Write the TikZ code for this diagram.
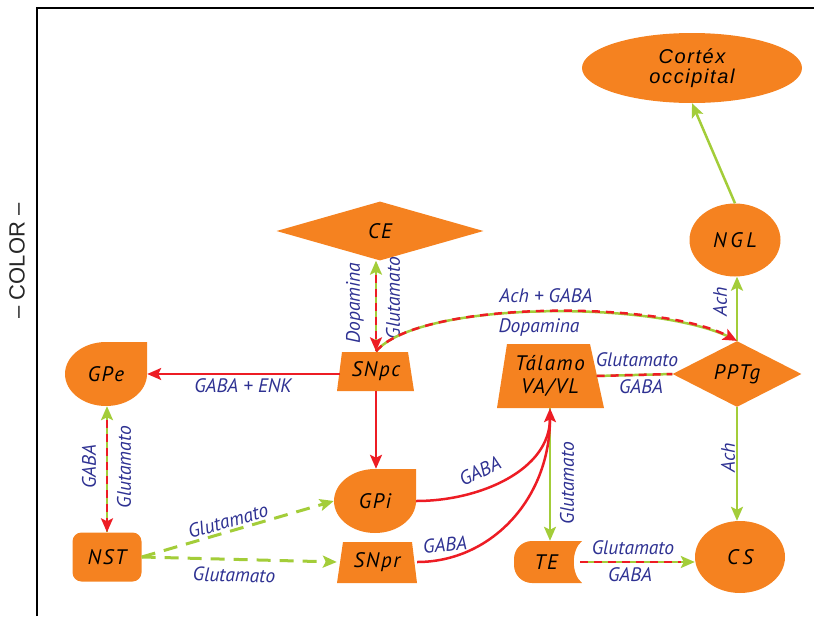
\documentclass[tikz,border=0pt]{standalone}
\usepackage{fontspec}
\setmainfont{PT Sans}
\newfontfamily\nodefont[LetterSpace=8]{PT Sans}
\newfontfamily\widefont[LetterSpace=18]{PT Sans}
\newfontfamily\cortexfont[LetterSpace=8]{Liberation Sans}
\newfontfamily\colorfont{Liberation Sans}
\usetikzlibrary{arrows.meta,shapes.geometric}
\definecolor{nodeor}{HTML}{F58220}
\definecolor{lred}{HTML}{ED1C24}
\definecolor{lgreen}{HTML}{A3CD39}
\definecolor{lblue}{HTML}{2E3192}
\begin{document}
\begin{tikzpicture}[x=1pt,y=-1pt,
  nodetext/.style={font=\nodefont\fontsize{21}{23}\selectfont\itshape, text=black, inner sep=0pt},
  widetext/.style={font=\widefont\fontsize{21}{23}\selectfont\itshape, text=black, inner sep=0pt},
  lab/.style={font=\fontsize{19.5}{21}\selectfont\itshape, text=lblue, inner sep=0pt},
  tip/.style={-{Stealth[length=14pt,width=12pt,inset=3pt]}},
  gline/.style={draw=lgreen, line width=2.5pt},
  rline/.style={draw=lred, line width=2.5pt},
  rdash/.style={draw=lred, line width=2.5pt, dash pattern=on 8pt off 6pt},
  gdash/.style={draw=lgreen, line width=3pt, dash pattern=on 14pt off 9pt},
  gshape/.pic={\fill[nodeor] (41,-32) -- (41,0) .. controls (41,17.7) and (22.6,32) .. (0,32) .. controls (-22.6,32) and (-41,17.7) .. (-41,0) .. controls (-41,-17.7) and (-22.6,-32) .. (0,-32) -- cycle;}
]
\useasboundingbox (0,0) rectangle (814,616);
% frame
\draw[line width=2pt] (37,616) -- (37,8) -- (814,8);
\node[rotate=90, font=\colorfont\fontsize{22}{24}\selectfont, text=black!85, inner sep=0pt] (colorlab) at (17,261) {– COLOR –};

% shapes
\pic at (106,374) {gshape};
\pic at (375,501) {gshape};
\fill[nodeor] (342,352) -- (408,352) -- (414,391) -- (337,391) -- cycle;
\fill[nodeor] (507,344) -- (590,344) -- (604,408) -- (497,408) -- cycle;
\fill[nodeor] (343,542) -- (412,542) -- (417,583) -- (337,583) -- cycle;
\fill[nodeor] (582,541) -- (532,541) .. controls (522,541) and (514,549) .. (514,559) -- (514,565) .. controls (514,575) and (522,583) .. (532,583) -- (582,583) .. controls (571,574) and (571,550) .. (582,541) -- cycle;

% nodes
\node[ellipse, fill=nodeor, minimum width=220, minimum height=70, inner sep=0pt, font=\cortexfont\fontsize{20}{20}\selectfont\itshape, align=center] (cortex) at (692,68) {Cortéx\\occipital};
\node[ellipse, fill=nodeor, minimum width=91, minimum height=73, widetext] (ngl) at (735,240) {NGL};
\node[diamond, fill=nodeor, minimum width=207, minimum height=59, nodetext] (ce) at (380,231) {CE};
\node[diamond, fill=nodeor, minimum width=129, minimum height=62, nodetext] (pptg) at (737,374) {PPTg};
\node[ellipse, fill=nodeor, minimum width=90, minimum height=72, widetext] (cs) at (740,557) {CS};
\node[minimum width=77, minimum height=39, nodetext] (snpc) at (376,371) {SNpc};
\node[minimum width=107, minimum height=64, nodetext, align=center] (tal) at (550,376) {Tálamo\\VA/VL};
\node[minimum width=80, minimum height=41, nodetext] (snpr) at (377,562) {SNpr};
\node[fill=nodeor, rounded corners=9pt, minimum width=69, minimum height=49, nodetext] (nst) at (107,557) {NST};
\node[minimum width=82, minimum height=64, nodetext] (gpe) at (106,374) {GPe};
\node[minimum width=82, minimum height=64, nodetext] (gpi) at (375,501) {GPi};
\node[minimum width=68, minimum height=42, nodetext] (te) at (546,562) {TE};

% connectors
\draw[gline, tip] (ngl.north) -- (cortex.south);
\draw[gline, tip] (pptg.north) -- (pptg.north |- ngl.south);
\node[lab, rotate=90] (l1) at (720,302) {Ach};
\draw[gline, tip] (pptg.south) -- (pptg.south |- cs.north);
\node[lab, rotate=90] (l2) at (728,458) {Ach};

\draw[gline] ([xshift=-7pt]tal.east) -- (pptg.west);
\draw[rdash] ([xshift=-7pt]tal.east) -- (pptg.west);
\node[lab] (l3) at (637,360) {Glutamato};
\node[lab] (l4) at (641,387) {GABA};

\draw[gline, tip] (te.east) -- (te.east -| cs.west);
\draw[rdash, shorten >=14pt] (te.east) -- (te.east -| cs.west);
\node[lab] (l5) at (633,548) {Glutamato};
\node[lab] (l6) at (630,575) {GABA};

\draw[gline, tip] (tal.south) -- (tal.south |- te.north);
\node[lab, rotate=90] (l7) at (567,483) {Glutamato};

\draw[rline, tip] (gpi.east) .. controls (480,501) and (550,470) .. (tal.south);
\draw[rline, shorten >=10pt] (snpr.east) .. controls (490,562) and (550,500) .. (tal.south);
\node[lab, rotate=26] (l8) at (480,471) {GABA};
\node[lab, rotate=5] (l9) at (445,545) {GABA};

\draw[rline, tip] ([xshift=3pt]snpc.west |- gpe.east) -- (gpe.east);
\node[lab] (l10) at (243,386) {GABA + ENK};
\draw[rline, tip] (snpc.south) -- (snpc.south |- gpi.north);

\draw[gline, tip] (snpc.north) -- (snpc.north |- ce.south);
\draw[rdash, tip, shorten <=14pt] (snpc.north |- ce.south) -- (snpc.north);
\node[lab, rotate=90] (l11) at (355,303) {Dopamina};
\node[lab, rotate=90] (l12) at (393,298) {Glutamato};

\draw[gline, shorten >=4pt] (snpc.north) .. controls (420,300) and (660,300) .. (pptg.north);
\draw[rdash, tip] (snpc.north) .. controls (420,300) and (660,300) .. (pptg.north);
\node[lab] (l13) at (546,296) {Ach + GABA};
\node[lab] (l14) at (539,328) {Dopamina};

\draw[gline, tip] (nst.north) -- (nst.north |- gpe.south);
\draw[rdash, tip, shorten <=14pt] (nst.north |- gpe.south) -- (nst.north);
\node[lab, rotate=90] (l15) at (89,467) {GABA};
\node[lab, rotate=90] (l16) at (124,467) {Glutamato};

\draw[gdash, tip] (nst.east) -- (gpi.west);
\draw[gdash, tip] (nst.east) -- (snpr.west);
\node[lab, rotate=16] (l17) at (228,521) {Glutamato};
\node[lab, rotate=-1.5] (l18) at (234,575) {Glutamato};
\end{tikzpicture}
\end{document}
